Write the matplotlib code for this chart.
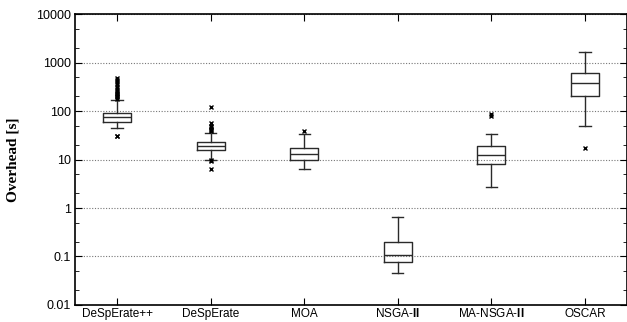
import matplotlib.pyplot as plt
import matplotlib.ticker as mticker

labels = ["DeSpErate++", "DeSpErate", "MOA", "NSGA-$\\mathbf{II}$", "MA-NSGA-$\\mathbf{II}$", "OSCAR"]
q1 = [59, 15.7, 10.0, 0.077, 8.1, 204]
med = [75, 19.0, 12.9, 0.107, 12.4, 378]
q3 = [91, 22.9, 17.3, 0.199, 19.0, 608]
whislo = [44.6, 10.0, 6.3, 0.046, 2.7, 49]
whishi = [169, 35, 33.6, 0.65, 33.6, 1650]
fliers = [
    [30, 31, 180, 190, 200, 210, 220, 240, 260, 290, 320, 360, 400, 440, 480],
    [6.4, 9.5, 9.7, 38, 40, 43, 46, 50, 56, 121],
    [38],
    [],
    [78, 88],
    [17.3],
]

stats = []
for i in range(len(labels)):
    stats.append(dict(label=labels[i], q1=q1[i], med=med[i], q3=q3[i],
                      whislo=whislo[i], whishi=whishi[i], fliers=fliers[i]))

plt.rcParams['font.family'] = ['Liberation Sans', 'DejaVu Sans']
plt.rcParams['mathtext.fontset'] = 'custom'
plt.rcParams['mathtext.rm'] = 'Liberation Sans'
plt.rcParams['mathtext.bf'] = 'Liberation Sans:bold'
fig = plt.figure(figsize=(6.27, 3.22), dpi=100)
ax = fig.add_axes([0.1196, 0.0528, 0.8804, 0.9037])

lc = '#2a2a2a'
ax.bxp(stats, positions=range(1, 7), widths=0.3, capwidths=0.12,
       boxprops=dict(color=lc, linewidth=1),
       medianprops=dict(color=lc, linewidth=1),
       whiskerprops=dict(color=lc, linewidth=1),
       capprops=dict(color=lc, linewidth=1),
       flierprops=dict(marker='x', markersize=3.5, markeredgecolor='black',
                       markeredgewidth=1, linestyle='none'))

ax.set_yscale('log')
ax.set_ylim(0.01, 10000)
ax.set_xlim(0.55, 6.45)
ax.yaxis.set_major_locator(mticker.LogLocator(base=10, numticks=10))
ax.yaxis.set_major_formatter(mticker.FuncFormatter(lambda v, p: f"{v:g}"))
ax.yaxis.set_minor_locator(mticker.LogLocator(base=10, subs=(2, 5), numticks=10))
ax.yaxis.set_minor_formatter(mticker.NullFormatter())
ax.set_xticks(range(1, 7))
ax.set_xticklabels(labels, fontsize=8.5)
for t in ax.get_xticklabels():
    t.set_verticalalignment('baseline')
ax.tick_params(axis='x', pad=8.5)
ax.tick_params(axis='y', labelsize=9, pad=3)
ax.tick_params(which='both', direction='in', top=True, right=True)
ax.tick_params(which='major', length=5)
ax.tick_params(which='minor', length=3)

ax.grid(axis='y', which='major', linestyle=(0, (1, 1.5)), color='#777777', linewidth=0.8)
for s in ax.spines.values():
    s.set_linewidth(1.2)

ax.set_ylabel("Overhead [s]", family='Liberation Serif', fontweight='bold', fontsize=11, labelpad=12)

fig.savefig("out.png", dpi=100)
